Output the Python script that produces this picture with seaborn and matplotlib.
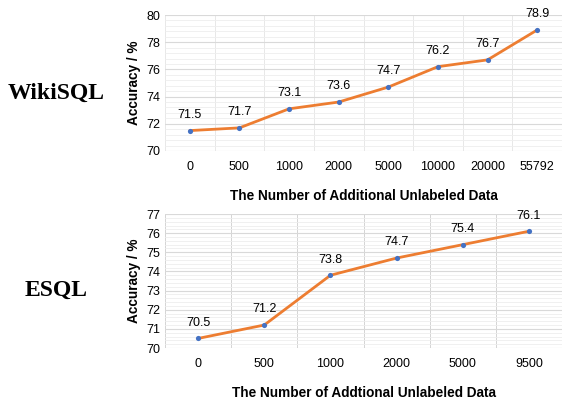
import matplotlib
matplotlib.use("Agg")
import matplotlib.pyplot as plt
from matplotlib.ticker import MultipleLocator, FixedLocator
import numpy as np
import pandas as pd
import seaborn as sns

# données
wiki_n = ["0", "500", "1000", "2000", "5000", "10000", "20000", "55792"]
wiki_acc = [71.5, 71.7, 73.1, 73.6, 74.7, 76.2, 76.7, 78.9]
esql_n = ["0", "500", "1000", "2000", "5000", "9500"]
esql_acc = [70.5, 71.2, 73.8, 74.7, 75.4, 76.1]

sns.set_style("white")
plt.rcParams['font.family'] = ['Liberation Sans', 'DejaVu Sans']
plt.rcParams['text.color'] = 'black'
plt.rcParams['axes.labelcolor'] = 'black'
plt.rcParams['xtick.color'] = 'black'
plt.rcParams['ytick.color'] = 'black'

LINE = "#ED7D31"
DOT = "#4472C4"

fig = plt.figure(figsize=(5.62, 3.99), dpi=100)
ax1 = fig.add_axes([0.2936, 0.6216, 0.7064, 0.3408])
ax2 = fig.add_axes([0.2936, 0.1278, 0.7064, 0.3358])


def draw(ax, labels, acc, ylim, ymajor, yminor, xlabel, vgrid_color):
    df = pd.DataFrame({"pos": np.arange(len(labels)), "acc": acc})
    sns.lineplot(data=df, x="pos", y="acc", ax=ax, color=LINE, linewidth=2, zorder=3)
    sns.scatterplot(data=df, x="pos", y="acc", ax=ax, color=DOT, s=14,
                    edgecolor=DOT, linewidth=0, zorder=4)
    for p, v in zip(df["pos"], df["acc"]):
        ax.annotate(f"{v:.1f}", (p, v), xytext=(0, 7), textcoords="offset points",
                    ha="center", va="bottom", fontsize=9)
    ax.set_xlim(-0.5, len(labels) - 0.5)
    ax.set_ylim(*ylim)
    ax.set_xticks(df["pos"])
    ax.set_xticklabels(labels, fontsize=9)
    ax.xaxis.set_minor_locator(FixedLocator(np.arange(-0.5, len(labels), 1)))
    ax.yaxis.set_major_locator(MultipleLocator(ymajor))
    ax.yaxis.set_minor_locator(MultipleLocator(yminor))
    ax.tick_params(axis="y", labelsize=9)
    ax.tick_params(axis="x", pad=7)
    ax.tick_params(which="both", length=0)
    ax.grid(True, axis="y", which="major", color="#d9d9d9", linewidth=0.8)
    ax.grid(True, axis="y", which="minor", color="#eeeeee", linewidth=0.6)
    ax.grid(True, axis="x", which="minor", color=vgrid_color, linewidth=0.7)
    ax.grid(False, axis="x", which="major")
    for s in ax.spines.values():
        s.set_visible(False)
    ax.set_xlabel(xlabel, fontsize=9.8, fontweight="bold", labelpad=12)
    ax.set_ylabel("Accuracy / %", fontsize=9.8, fontweight="bold", labelpad=4)
    ax.set_axisbelow(True)


draw(ax1, wiki_n, wiki_acc, (70, 80), 2, 0.4,
     "The Number of Additional Unlabeled Data", "#e8e8e8")
draw(ax2, esql_n, esql_acc, (70, 77), 1, 0.2,
     "The Number of Addtional Unlabeled Data", "#d4d4d4")

fig.text(0.1, 0.766, "WikiSQL", family="Liberation Serif", fontweight="bold",
         fontsize=17, ha="center", va="center")
fig.text(0.1, 0.273, "ESQL", family="Liberation Serif", fontweight="bold",
         fontsize=17, ha="center", va="center")

fig.savefig("out.png", dpi=100)
